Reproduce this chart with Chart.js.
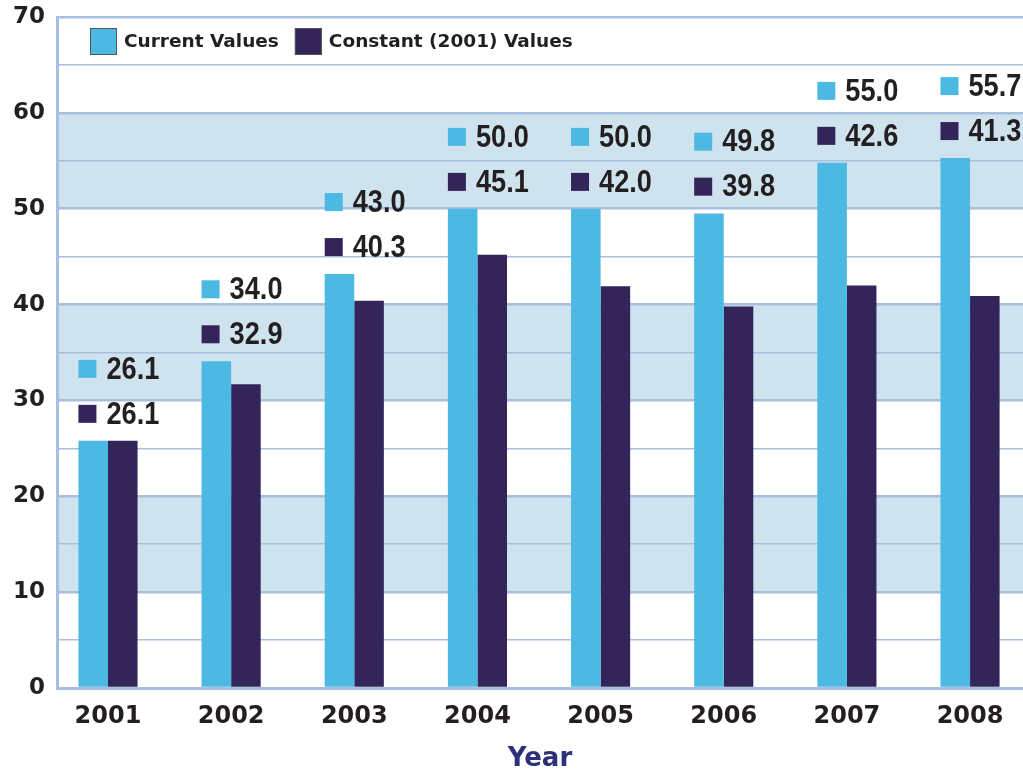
<!DOCTYPE html>
<html>
<head>
<meta charset="utf-8">
<script src="https://cdn.jsdelivr.net/npm/chart.js@4.4.1/dist/chart.umd.min.js"></script>
<style>
  html,body{margin:0;padding:0;background:#fff;}
  #wrap{width:1023px;height:772px;}
</style>
</head>
<body>
<div id="wrap"><canvas id="c" width="1023" height="772"></canvas></div>
<script>
/* ===================== data ===================== */
const years        = [2001, 2002, 2003, 2004, 2005, 2006, 2007, 2008];
const currentVals  = [25.8, 34.1, 43.2, 50.0, 50.0, 49.5, 54.8, 55.3];
const constantVals = [25.8, 31.7, 40.4, 45.2, 41.9, 39.8, 42.0, 40.9];
const currentText  = ['26.1','34.0','43.0','50.0','50.0','49.8','55.0','55.7'];
const constantText = ['26.1','32.9','40.3','45.1','42.0','39.8','42.6','41.3'];
const seriesNames  = ['Current Values', 'Constant (2001) Values'];
const yTicks       = [0, 10, 20, 30, 40, 50, 60, 70];

const C_CUR = '#4cb9e3', C_CON = '#33255a', C_GRID = '#a7bfe0', C_BAND = '#cfe3ee', C_TXT = '#231f20';

/* ---------- bands 10-20, 30-40, 50-60 ---------- */
const bands = {
  id:'bands',
  beforeDraw(ch){
    const {ctx, chartArea:a, scales:{y}} = ch;
    ctx.save();
    ctx.fillStyle = C_BAND;
    for(let v=10; v<70; v+=20){
      const t=y.getPixelForValue(v+10), b=y.getPixelForValue(v);
      ctx.fillRect(a.left, t, a.right-a.left, b-t);
    }
    ctx.restore();
  }
};

/* ---------- legend inside plot ---------- */
const legendBox = {
  id:'legendBox',
  afterDraw(ch){
    const {ctx, chartArea:a} = ch;
    ctx.save();
    ctx.font = 'bold 18.5px "DejaVu Sans"';
    ctx.textBaseline = 'middle';
    let x = a.left + 33;
    const yc = a.top + 24.5;
    ch.data.datasets.forEach(ds=>{
      ctx.fillStyle = ds.backgroundColor;
      ctx.fillRect(x, yc-13.5, 27, 27);
      ctx.strokeStyle = '#555';
      ctx.lineWidth = 1;
      ctx.strokeRect(x+0.5, yc-13, 26, 26);
      ctx.fillStyle = C_TXT;
      ctx.fillText(ds.label, x+34, yc+1);
      x += 34 + ctx.measureText(ds.label).width + 16;
    });
    ctx.restore();
  }
};

/* ---------- value labels with little squares ---------- */
const valueTags = {
  id:'valueTags',
  afterDatasetsDraw(ch){
    const {ctx, scales:{y}} = ch;
    const m0 = ch.getDatasetMeta(0);
    ctx.save();
    ctx.font = 'bold 32px "Liberation Sans", sans-serif';
    ctx.textBaseline = 'middle';
    years.forEach((yr,i)=>{
      const bar = m0.data[i];
      const left = bar.x - bar.width/2;
      const top = Math.max(currentVals[i], constantVals[i]) + 2.8;
      const y2 = y.getPixelForValue(top), y1 = y2 - 45;
      [[y1, C_CUR, currentText[i]], [y2, C_CON, constantText[i]]].forEach(([yy,col,txt])=>{
        ctx.fillStyle = col;
        ctx.fillRect(left, yy-9, 18, 18);
        ctx.fillStyle = C_TXT;
        ctx.save();
        ctx.translate(left+28, yy+1);
        ctx.scale(0.85, 1);
        ctx.fillText(txt, 0, 0);
        ctx.restore();
      });
    });
    ctx.restore();
  }
};

/* ================= chart ========================= */
new Chart(document.getElementById('c'), {
  type:'bar',
  data:{
    datasets:[
      {label:seriesNames[0], data:years.map((x,i)=>({x, y:currentVals[i]})),  backgroundColor:C_CUR},
      {label:seriesNames[1], data:years.map((x,i)=>({x, y:constantVals[i]})), backgroundColor:C_CON}
    ]
  },
  options:{
    responsive:false,
    animation:false,
    layout:{padding:{top:17, right:0, bottom:0, left:0}},
    plugins:{legend:{display:false}, tooltip:{enabled:false}},
    datasets:{bar:{categoryPercentage:0.48, barPercentage:1.0}},
    scales:{
      x:{
        type:'linear',
        offset:false,
        min:2000.586, max:2008.43,
        ticks:{
          stepSize:1, includeBounds:false, padding:14,
          color:C_TXT, font:{family:'DejaVu Sans', weight:'bold', size:24},
          callback:v=>years.includes(v) ? String(v) : ''
        },
        grid:{display:false, drawTicks:false},
        border:{color:C_GRID, width:3},
        title:{display:true, text:'Year', color:'#2d3078',
               font:{family:'DejaVu Sans', weight:'bold', size:26, lineHeight:1}, padding:{top:8, bottom:0}},
        afterFit:s=>{ s.height = 84; s.paddingLeft = 0; s.paddingRight = 0; }
      },
      y:{
        min:0, max:70,
        ticks:{
          stepSize:5, padding:12,
          color:C_TXT, font:{family:'DejaVu Sans', weight:'bold', size:23},
          callback:v=>yTicks.includes(v) ? String(v) : ''
        },
        grid:{color:C_GRID, lineWidth:c=>c.tick && c.tick.value%10===0 ? 2.5 : 1.5, drawTicks:false},
        border:{color:C_GRID, width:3},
        afterFit:s=>{ s.width = 57; s.paddingTop = 0; s.paddingBottom = 0; }
      }
    }
  },
  plugins:[bands, valueTags, legendBox]
});
</script>
</body>
</html>
